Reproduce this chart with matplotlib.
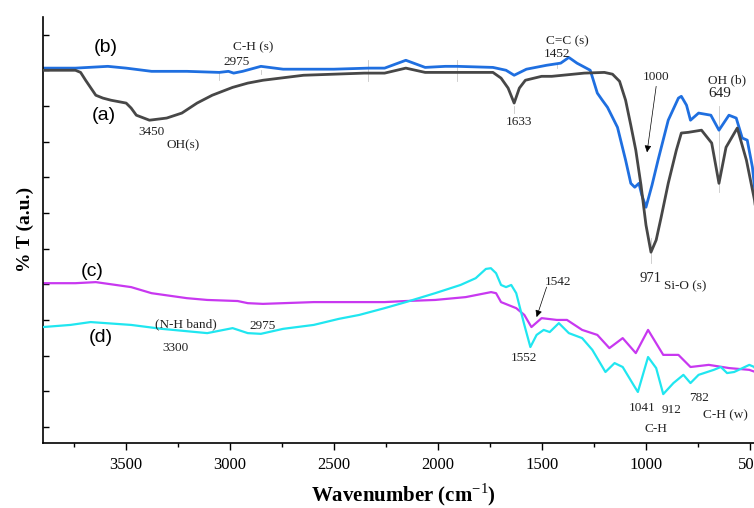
import matplotlib
matplotlib.use('Agg')
import matplotlib.pyplot as plt

# (a) grey spectrum
a_wn = [3900, 3744, 3719, 3695, 3646, 3612, 3573, 3500, 3476, 3451, 3388, 3305, 3232,
        3159, 3086, 2988, 2915, 2842, 2647, 2355, 2257, 2155, 2062, 1736,
        1697, 1663, 1634, 1609, 1580, 1502, 1453, 1297, 1200, 1161,
        1127, 1098, 1073, 1049, 1024, 1000, 976, 951, 927, 893,
        854, 830, 796, 733, 684, 649, 615, 561, 517, 478, 454, 435]
a_T = [10.0, 10.0, 9.94, 9.72, 9.30, 9.22, 9.16, 9.08, 8.94, 8.74, 8.60, 8.66, 8.80,
       9.08, 9.30, 9.52, 9.64, 9.72, 9.86, 9.92, 9.92, 10.06, 9.94, 9.94,
       9.78, 9.50, 9.08, 9.50, 9.72, 9.83, 9.83, 9.92, 9.94, 9.89,
       9.69, 9.16, 8.46, 7.76, 6.78, 5.66, 4.90, 5.24, 5.88, 6.83,
       7.76, 8.24, 8.26, 8.32, 7.96, 6.83, 7.84, 8.38, 7.48, 6.36, 5.24, 3.98]

# (b) blue spectrum
b_wn = [3900, 3744, 3588, 3500, 3378, 3208, 3052, 3008, 2983, 2940,
        2852, 2745, 2501, 2335, 2257, 2155, 2062, 1965, 1907, 1736,
        1673, 1634, 1575, 1478, 1410, 1371, 1332, 1268, 1234, 1210,
        1185, 1137, 1098, 1073, 1054, 1034, 1020, 1000, 971, 942,
        893, 844, 830, 805, 786, 747, 688, 649, 601, 566,
        537, 513, 488, 464, 435]
b_T = [10.06, 10.06, 10.11, 10.06, 9.97, 9.97, 9.94, 9.97, 9.92, 9.97,
       10.11, 10.03, 10.03, 10.06, 10.06, 10.28, 10.08, 10.11, 10.11, 10.08,
       10.0, 9.86, 10.03, 10.14, 10.20, 10.36, 10.20, 10.0, 9.36, 9.16,
       8.96, 8.40, 7.48, 6.83, 6.72, 6.83, 6.50, 6.16, 6.78, 7.48,
       8.60, 9.22, 9.27, 9.02, 8.60, 8.80, 8.74, 8.32, 8.74, 8.66,
       8.10, 8.04, 7.28, 5.94, 4.68]

# (c) magenta spectrum
c_wn = [3900, 3744, 3646, 3476, 3378, 3208, 3110, 2964, 2915, 2842,
        2598, 2257, 2155, 2014, 1867, 1745, 1721, 1697, 1624, 1585,
        1551, 1502, 1429, 1380, 1307, 1234, 1176, 1112, 1049, 990,
        917, 844, 786, 698, 600, 503, 435]
c_T = [4.03, 4.03, 4.06, 3.92, 3.75, 3.61, 3.56, 3.53, 3.47, 3.45,
       3.50, 3.50, 3.53, 3.56, 3.64, 3.78, 3.75, 3.50, 3.33, 3.14,
       2.80, 3.05, 3.00, 3.00, 2.72, 2.58, 2.21, 2.49, 2.07, 2.72,
       2.02, 2.02, 1.68, 1.74, 1.65, 1.60, 1.46]

# (d) cyan spectrum
d_wn = [3900, 3768, 3671, 3476, 3329, 3110, 2988, 2915, 2852, 2745,
        2598, 2477, 2379, 2257, 2155, 2014, 1892, 1819, 1770, 1746,
        1721, 1697, 1673, 1648, 1624, 1585, 1556, 1526, 1492, 1463,
        1419, 1371, 1307, 1258, 1195, 1151, 1112, 1054, 1039, 990,
        951, 917, 868, 820, 786, 747, 674, 640, 610, 576,
        503, 479, 435]
d_T = [2.80, 2.86, 2.94, 2.86, 2.75, 2.63, 2.77, 2.63, 2.61, 2.75,
       2.86, 3.03, 3.14, 3.33, 3.50, 3.75, 3.98, 4.17, 4.43, 4.45,
       4.31, 3.98, 3.92, 3.98, 3.75, 2.86, 2.24, 2.58, 2.72, 2.66,
       2.91, 2.63, 2.49, 2.16, 1.54, 1.79, 1.68, 1.12, 0.98, 1.96,
       1.65, 0.92, 1.23, 1.46, 1.23, 1.46, 1.60, 1.68, 1.51, 1.54,
       1.74, 1.68, 1.09]

# peak labels: (text, wavenumber, T, size)
peak_labels = [
    ('C-H (s)', 2891, 10.64, 9.5), ('2975', 2969, 10.24, 9.5),
    ('3450', 3378, 8.26, 9.5), ('OH(s)', 3227, 7.90, 9.5),
    ('1633', 1609, 8.54, 9.5),
    ('C=C (s)', 1380, 10.80, 9.5), ('1452', 1429, 10.45, 9.5),
    ('1000', 951, 9.80, 9.5),
    ('OH (b)', 610, 9.72, 9.5), ('649', 647, 9.36, 11),
    ('971', 976, 4.17, 10.5), ('Si-O (s)', 813, 3.95, 9.5),
    ('1542', 1424, 4.06, 9.5), ('1552', 1585, 1.93, 9.5),
    ('1041', 1020, 0.53, 9.5), ('912', 878, 0.48, 9.5),
    ('C-H', 954, -0.06, 9.5), ('782', 744, 0.81, 9.5),
    ('C-H (w)', 620, 0.34, 9.5),
    ('(N-H band)', 3212, 2.89, 9.5), ('2975', 2845, 2.83, 9.5),
    ('3300', 3264, 2.21, 9.5),
]

curve_names = ['(b)', '(a)', '(c)', '(d)']
curve_name_pos = [(3656, 10.64), (3666, 8.74), (3719, 4.37), (3680, 2.52)]

# thin marker lines: (wavenumber, T from, T to)
marker_lines = [(3052, 9.74, 9.96), (2852, 9.9, 10.0), (2335, 9.7, 10.3),
                (1907, 9.7, 10.3), (1634, 8.8, 9.0), (1429, 10.05, 10.2),
                (976, 4.6, 5.3), (649, 6.6, 9.0)]

serif = 'Liberation Serif'
plt.rcParams['font.family'] = serif
plt.rcParams['mathtext.fontset'] = 'custom'
plt.rcParams['mathtext.rm'] = serif

fig = plt.figure(figsize=(7.54, 5.08), dpi=100)
ax = fig.add_axes([0.057, 0.128, 0.955, 0.839])

for x, y0, y1 in marker_lines:
    ax.plot([x, x], [y0, y1], color='#c8c8c8', lw=0.6, zorder=1)

ax.plot(a_wn, a_T, color='#474747', lw=2.0, zorder=3)
ax.plot(b_wn, b_T, color='#1f6fe0', lw=2.0, zorder=2)
ax.plot(c_wn, c_T, color='#c838f0', lw=1.6, zorder=2)
ax.plot(d_wn, d_T, color='#20e6f0', lw=1.6, zorder=3)

for name, (x, y) in zip(curve_names, curve_name_pos):
    ax.text(x, y, name, fontsize=14, family='Liberation Sans', ha='left', va='center')

for txt, x, y, s in peak_labels:
    ax.text(x, y, txt, fontsize=s, ha='center', va='center', color='#222222')

ax.annotate('', xy=(995, 7.7), xytext=(951, 9.55),
            arrowprops=dict(arrowstyle='-|>', color='black', lw=0.5,
                            mutation_scale=10, shrinkA=0, shrinkB=0))
ax.annotate('', xy=(1526, 3.08), xytext=(1478, 3.92),
            arrowprops=dict(arrowstyle='-|>', color='black', lw=0.5,
                            mutation_scale=10, shrinkA=0, shrinkB=0))

ax.set_xlim(3900, 437)
ax.set_ylim(-0.45, 11.5)
ax.set_xticks([3500, 3000, 2500, 2000, 1500, 1000, 500])
ax.set_xticks([3750, 3250, 2750, 2250, 1750, 1250, 750], minor=True)
ax.set_yticks(range(0, 12))
ax.set_yticklabels([])
ax.tick_params(axis='x', direction='out', length=5, width=1, labelsize=12, pad=5)
ax.tick_params(axis='x', which='minor', direction='out', length=3, width=1)
ax.tick_params(axis='y', direction='in', length=4, width=1)
ax.spines['top'].set_visible(False)
ax.spines['right'].set_visible(False)
ax.spines['left'].set_linewidth(1.2)
ax.spines['bottom'].set_linewidth(1.2)

ax.set_xlabel('Wavenumber (cm$^{-1}$)', fontsize=15, fontweight='bold', labelpad=6)
ax.set_ylabel('% T (a.u.)', fontsize=14, fontweight='bold', labelpad=3)

fig.savefig('out.png', dpi=100)
